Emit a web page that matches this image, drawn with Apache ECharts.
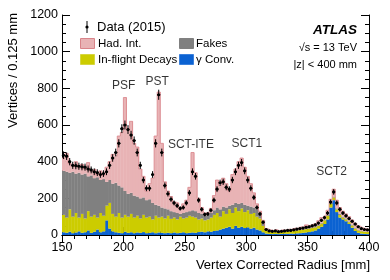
<!DOCTYPE html>
<html><head><meta charset="utf-8">
<script src="https://cdn.jsdelivr.net/npm/echarts@6/dist/echarts.min.js"></script>
<style>html,body{margin:0;padding:0;background:#fff}#c{width:390px;height:280px}</style>
</head><body><div id="c"></div>
<script>
// Bins: 2.5 mm wide starting at 150 mm
const binStart = 150, binWidth = 2.5;
const dataCounts = [435,430,400,380,378,375,372,370,360,355,345,340,330,335,345,380,420,450,500,580,
600,575,545,515,450,380,300,255,255,330,500,765,450,270,225,195,175,160,145,150,
175,230,345,320,190,140,112,115,135,190,250,285,290,260,250,300,345,380,395,350,
300,255,205,150,115,70,30,22,20,22,18,20,22,25,25,28,32,35,38,42,
45,50,55,65,80,95,120,180,235,175,140,120,105,90,75,60,45,35,30,28];
const gammaConv = [15,12,18,10,14,20,12,15,25,12,18,30,15,20,80,35,20,15,12,10,
18,12,15,10,14,12,16,10,12,15,10,14,12,10,12,10,14,10,12,15,
10,12,14,12,16,18,15,20,18,22,25,30,35,40,45,35,50,40,45,38,
42,35,40,30,25,15,8,6,5,6,5,6,7,6,8,7,9,10,12,14,
16,20,25,35,45,60,85,150,190,125,95,85,75,60,40,22,12,8,6,5];
const inFlightDecays = [95,83,122,90,106,75,103,75,105,88,92,65,105,85,80,140,95,85,108,85,
92,88,100,85,91,78,94,85,88,70,95,81,88,80,93,78,81,75,88,75,
85,93,86,83,69,72,65,65,77,88,95,70,95,75,95,85,100,90,100,87,
93,80,80,70,65,35,14,12,11,12,10,11,11,14,14,16,16,18,18,18,
19,18,17,15,17,20,20,20,15,15,15,10,10,10,12,13,13,12,12,11];
const fakes = [240,250,200,245,215,245,215,245,190,225,200,220,180,200,130,125,165,185,150,165,
130,125,115,120,105,110,95,95,95,90,60,65,50,55,35,42,30,35,15,30,
30,25,35,35,35,25,25,25,25,25,30,40,25,35,20,45,25,40,30,40,
25,40,30,40,30,15,4,2,2,3,2,2,2,2,2,2,2,2,3,3,
3,4,4,4,4,4,5,5,5,5,5,5,5,4,4,3,3,2,2,2];
const hadInt = [70,100,50,30,65,25,55,25,75,25,50,15,50,20,80,100,160,145,270,300,
510,355,390,285,270,160,115,50,85,135,375,620,350,145,100,80,55,55,35,50,
65,130,315,210,80,35,15,15,25,80,150,130,155,130,80,165,185,230,245,205,
160,125,80,30,10,15,9,8,6,9,5,9,6,10,6,13,8,15,9,20,
12,18,16,24,29,21,25,20,40,45,35,30,25,26,26,27,22,18,15,14];
const peakLabels = [['PSF',200.3,813],['PST',227.5,835],['SCT-ITE',255,495],['SCT1',300.6,497],['SCT2',369.6,344]];
const xTicks = {min:150, max:400, step:50};
const yTicks = {min:0, max:1200, step:200};

const FONT = "'Liberation Sans', Arial, Helvetica, sans-serif";
const N = dataCounts.length;
const lo = i => binStart + i*binWidth;
const comps = [gammaConv, inFlightDecays, fakes, hadInt];
const colors = ['#0b62d2', '#cccc00', '#808080', '#e8b3b5'];
const base = new Array(N).fill(0);
const series = [];
comps.forEach((arr, k) => {
  const items = arr.map((v, i) => { const b = base[i]; base[i] = b + v; return [lo(i), lo(i)+binWidth, b, b+v]; });
  series.push({
    type:'custom', coordinateSystem:'cartesian2d', data: items, silent:true, animation:false, clip:true,
    encode:{x:[0,1], y:[2,3]},
    renderItem:(p, api) => {
      const a = api.coord([api.value(0), api.value(3)]);
      const b = api.coord([api.value(1), api.value(2)]);
      return {type:'rect', shape:{x:a[0], y:a[1], width:b[0]-a[0]+0.4, height:b[1]-a[1]}, style:{fill:colors[k]}};
    }
  });
});
// outline of total
const outline = [];
base.forEach((t, i) => { outline.push([lo(i), t]); outline.push([lo(i)+binWidth, t]); });
series.push({type:'line', data: outline, showSymbol:false, symbol:'none', silent:true, animation:false,
  lineStyle:{color:'#d9848a', width:0.8}, z:3});
// data points
series.push({
  type:'custom', coordinateSystem:'cartesian2d', silent:true, animation:false, z:5,
  data: dataCounts.map((v, i) => [lo(i)+binWidth/2, v, Math.sqrt(v)]),
  encode:{x:0, y:1},
  renderItem:(p, api) => {
    const x = api.value(0), y = api.value(1), e = api.value(2);
    const c = api.coord([x, y]), t = api.coord([x, y+e]), b = api.coord([x, y-e]);
    const l = api.coord([x-binWidth/2, y]), r = api.coord([x+binWidth/2, y]);
    return {type:'group', children:[
      {type:'line', shape:{x1:c[0], y1:t[1], x2:c[0], y2:b[1]}, style:{stroke:'#000', lineWidth:1}},
      {type:'line', shape:{x1:l[0], y1:c[1], x2:r[0], y2:c[1]}, style:{stroke:'#000', lineWidth:1}},
      {type:'circle', shape:{cx:c[0], cy:c[1], r:1.6}, style:{fill:'#000'}}
    ]};
  }
});
// peak labels
series.push({type:'scatter', symbolSize:0, silent:true, animation:false, z:6,
  data: peakLabels.map(d => ({name:d[0], value:[d[1], d[2]]})),
  label:{show:true, position:'inside', formatter:'{b}', color:'#000', fontSize:12, fontFamily:FONT}});

const axisCommon = {
  axisLine:{show:true, lineStyle:{color:'#000', width:1}},
  axisTick:{show:true, inside:true, length:8, lineStyle:{color:'#000', width:1}},
  splitLine:{show:false}, minorSplitLine:{show:false}
};
const plain = v => String(v);
const opt = {
  animation:false,
  grid:{left:62, right:21, top:15, bottom:45, containLabel:false},
  xAxis:[
    Object.assign({type:'value', min:xTicks.min, max:xTicks.max, interval:xTicks.step, position:'bottom',
      axisLabel:{color:'#000', fontSize:12.5, fontFamily:FONT, margin:6, formatter:plain}}, axisCommon,
      {minorTick:{show:true, splitNumber:5, length:4, lineStyle:{color:'#000'}}}),
    Object.assign({type:'value', min:xTicks.min, max:xTicks.max, interval:xTicks.step, position:'top',
      axisLabel:{show:false}}, axisCommon,
      {minorTick:{show:true, splitNumber:5, length:4, lineStyle:{color:'#000'}}})
  ],
  yAxis:[
    Object.assign({type:'value', min:yTicks.min, max:yTicks.max, interval:yTicks.step, position:'left',
      axisLabel:{color:'#000', fontSize:12.5, fontFamily:FONT, margin:4, formatter:plain}}, axisCommon,
      {minorTick:{show:true, splitNumber:4, length:4, lineStyle:{color:'#000'}}}),
    Object.assign({type:'value', min:yTicks.min, max:yTicks.max, interval:yTicks.step, position:'right',
      axisLabel:{show:false}}, axisCommon,
      {minorTick:{show:true, splitNumber:4, length:4, lineStyle:{color:'#000'}}})
  ],
  series: series,
  graphic:[
    {type:'text', x:13, y:13, rotation:Math.PI/2, style:{text:'Vertices / 0.125 mm', font:'13px '+FONT, fill:'#000', align:'right', verticalAlign:'middle'}},
    {type:'text', x:370, y:265, style:{text:'Vertex Corrected Radius [mm]', font:'13px '+FONT, fill:'#000', align:'right', verticalAlign:'middle'}},
    // legend
    {type:'line', shape:{x1:87, y1:21, x2:87, y2:33}, style:{stroke:'#000', lineWidth:1}},
    {type:'circle', shape:{cx:87, cy:27, r:1.6}, style:{fill:'#000'}},
    {type:'text', x:97, y:27, style:{text:'Data (2015)', font:'13px '+FONT, fill:'#000', verticalAlign:'middle'}},
    {type:'rect', shape:{x:80.5, y:38.5, width:14, height:10}, style:{fill:'#e8b3b5', stroke:'#d9848a', lineWidth:1}},
    {type:'text', x:98, y:43.5, style:{text:'Had. Int.', font:'11.5px '+FONT, fill:'#000', verticalAlign:'middle'}},
    {type:'rect', shape:{x:179.5, y:38.5, width:14, height:10}, style:{fill:'#808080', stroke:'#808080', lineWidth:1}},
    {type:'text', x:196, y:43.5, style:{text:'Fakes', font:'11.5px '+FONT, fill:'#000', verticalAlign:'middle'}},
    {type:'rect', shape:{x:80.5, y:54.5, width:14, height:10}, style:{fill:'#cccc00', stroke:'#d6d640', lineWidth:1}},
    {type:'text', x:98, y:59.5, style:{text:'In-flight Decays', font:'11.5px '+FONT, fill:'#000', verticalAlign:'middle'}},
    {type:'rect', shape:{x:179.5, y:54.5, width:14, height:10}, style:{fill:'#0b62d2', stroke:'#3a80dc', lineWidth:1}},
    {type:'text', x:196, y:59.5, style:{text:'γ Conv.', font:'11.5px '+FONT, fill:'#000', verticalAlign:'middle'}},
    // ATLAS label
    {type:'text', x:357, y:30, style:{text:'ATLAS', font:'italic bold 13.5px '+FONT, fill:'#000', align:'right', verticalAlign:'middle'}},
    {type:'text', x:357, y:48, style:{text:'√s = 13 TeV', font:'11px '+FONT, fill:'#000', align:'right', verticalAlign:'middle'}},
    {type:'text', x:357, y:65, style:{text:'|z| < 400 mm', font:'11px '+FONT, fill:'#000', align:'right', verticalAlign:'middle'}}
  ]
};
const chart = echarts.init(document.getElementById('c'), null, {renderer:'canvas'});
chart.setOption(opt);
</script></body></html>
